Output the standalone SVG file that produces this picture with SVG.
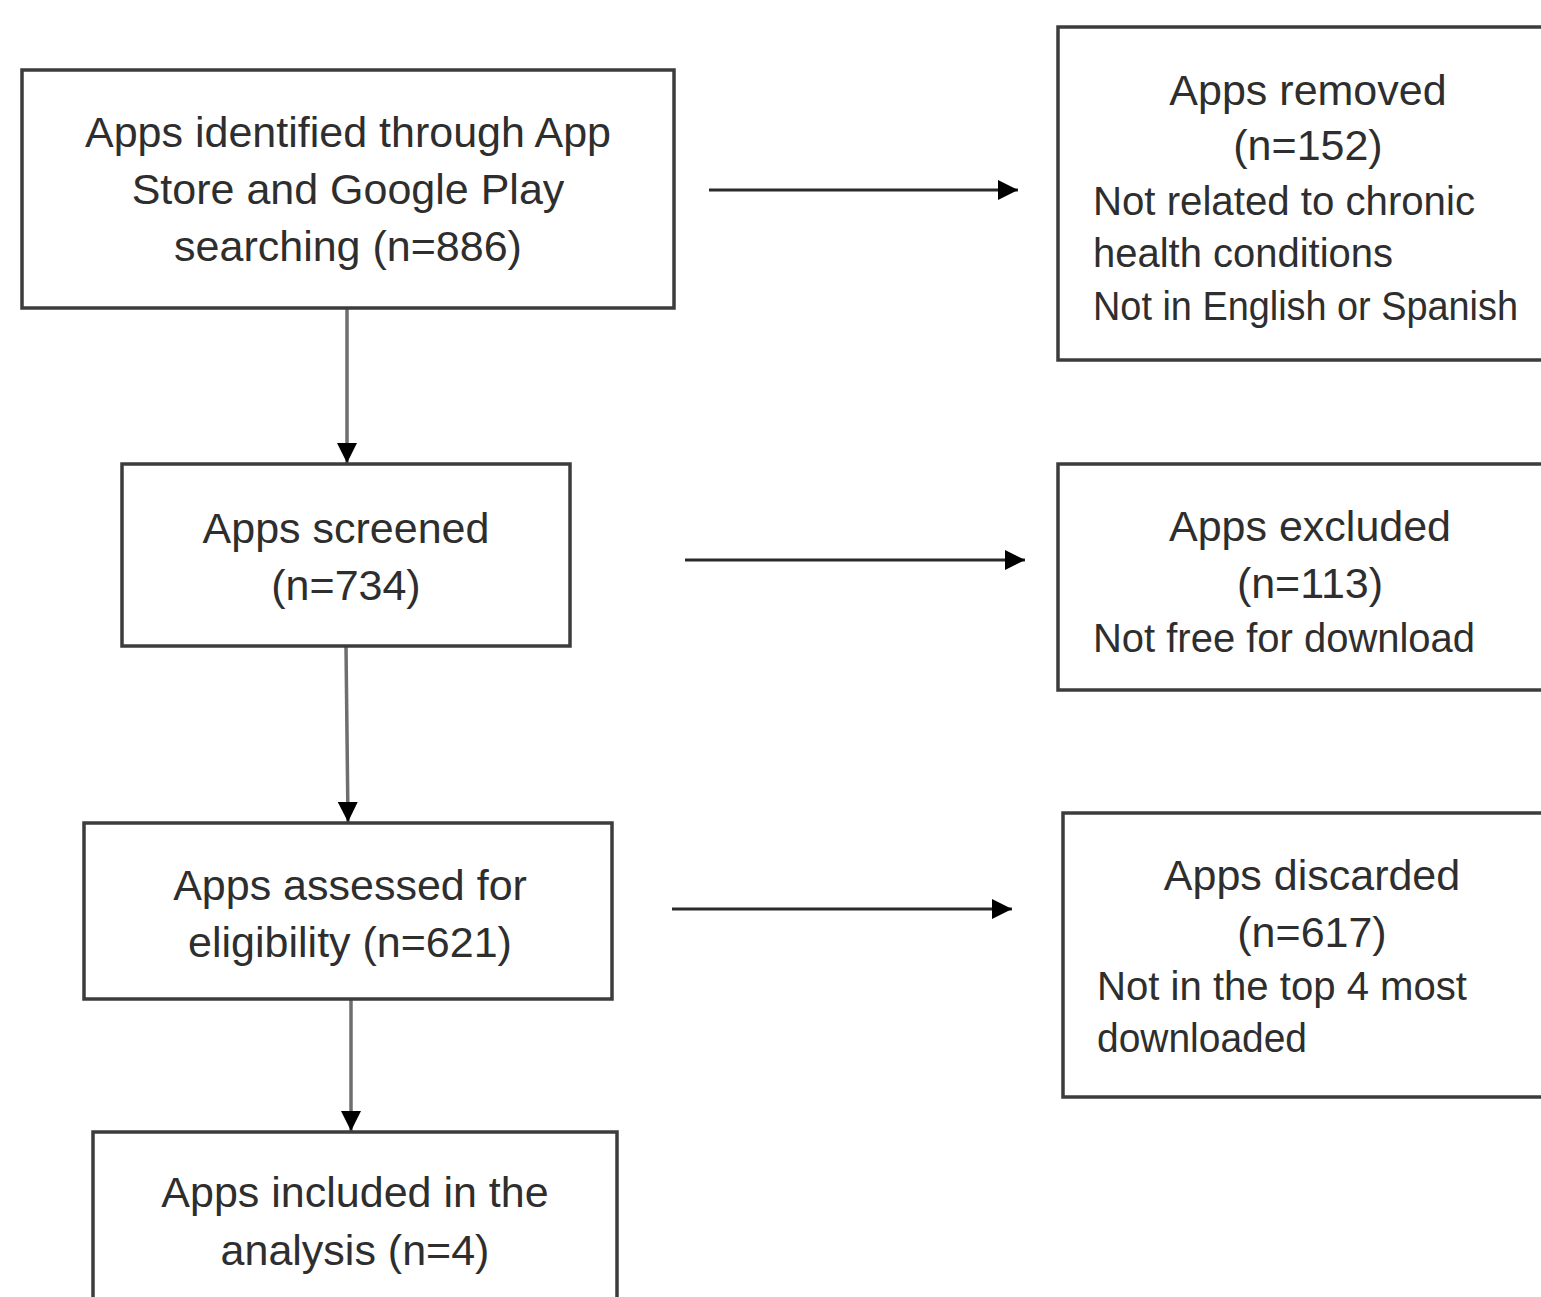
<svg xmlns="http://www.w3.org/2000/svg" width="1541" height="1297" viewBox="0 0 1541 1297">
<defs>
<style>
.box{fill:#ffffff;stroke:#3c3c3c;stroke-width:3.5}
.t{font-family:"Liberation Sans",Arial,sans-serif;font-size:43px;fill:#2e2e2e}
.d{font-size:40px}
.c{text-anchor:middle}
.h{stroke:#2a2a2a;stroke-width:3;fill:none}
.v{stroke:#6e6e6e;stroke-width:3.5;fill:none}
</style>
<marker id="ah" viewBox="0 0 10 10" refX="10" refY="5" markerWidth="20" markerHeight="20" markerUnits="userSpaceOnUse" orient="auto">
<path d="M0,0 L10,5 L0,10 z" fill="#000"/>
</marker>
</defs>
<rect width="1541" height="1297" fill="#ffffff"/>
<g id="connectors">
<line class="v" x1="347" y1="308" x2="347" y2="463" marker-end="url(#ah)"/>
<line class="v" x1="346" y1="646" x2="348" y2="822" marker-end="url(#ah)"/>
<line class="v" x1="351" y1="999" x2="351" y2="1131" marker-end="url(#ah)"/>
<line class="h" x1="709" y1="190" x2="1018" y2="190" marker-end="url(#ah)"/>
<line class="h" x1="685" y1="560" x2="1025" y2="560" marker-end="url(#ah)"/>
<line class="h" x1="672" y1="909" x2="1012" y2="909" marker-end="url(#ah)"/>
</g>
<g id="identified">
<rect class="box" x="22" y="70" width="652" height="238"/>
<text class="t c"><tspan x="348" y="147">Apps identified through App</tspan><tspan x="348" y="204">Store and Google Play</tspan><tspan x="348" y="261">searching (n=886)</tspan></text>
</g>
<g id="screened">
<rect class="box" x="122" y="464" width="448" height="182"/>
<text class="t c"><tspan x="346" y="543">Apps screened</tspan><tspan x="346" y="600">(n=734)</tspan></text>
</g>
<g id="assessed">
<rect class="box" x="84" y="823" width="528" height="176"/>
<text class="t c"><tspan x="350" y="900">Apps assessed for</tspan><tspan x="350" y="957">eligibility (n=621)</tspan></text>
</g>
<g id="included">
<rect class="box" x="93" y="1132" width="524" height="180"/>
<text class="t c"><tspan x="355" y="1207">Apps included in the</tspan><tspan x="355" y="1265">analysis (n=4)</tspan></text>
</g>
<g id="removed">
<rect class="box" x="1058" y="27" width="500" height="333"/>
<text class="t c"><tspan x="1308" y="105">Apps removed</tspan><tspan x="1308" y="160">(n=152)</tspan></text>
<text class="t d" x="1093" y="215" textLength="382" lengthAdjust="spacingAndGlyphs">Not related to chronic</text>
<text class="t d" x="1093" y="267" textLength="300" lengthAdjust="spacingAndGlyphs">health conditions</text>
<text class="t d" x="1093" y="320" textLength="425" lengthAdjust="spacingAndGlyphs">Not in English or Spanish</text>
</g>
<g id="excluded">
<rect class="box" x="1058" y="464" width="500" height="226"/>
<text class="t c"><tspan x="1310" y="541">Apps excluded</tspan><tspan x="1310" y="598">(n=113)</tspan></text>
<text class="t d" x="1093" y="652" textLength="382" lengthAdjust="spacingAndGlyphs">Not free for download</text>
</g>
<g id="discarded">
<rect class="box" x="1063" y="813" width="500" height="284"/>
<text class="t c"><tspan x="1312" y="890">Apps discarded</tspan><tspan x="1312" y="947">(n=617)</tspan></text>
<text class="t d" x="1097" y="1000" textLength="370" lengthAdjust="spacingAndGlyphs">Not in the top 4 most</text>
<text class="t d" x="1097" y="1052" textLength="210" lengthAdjust="spacingAndGlyphs">downloaded</text>
</g>
</svg>
